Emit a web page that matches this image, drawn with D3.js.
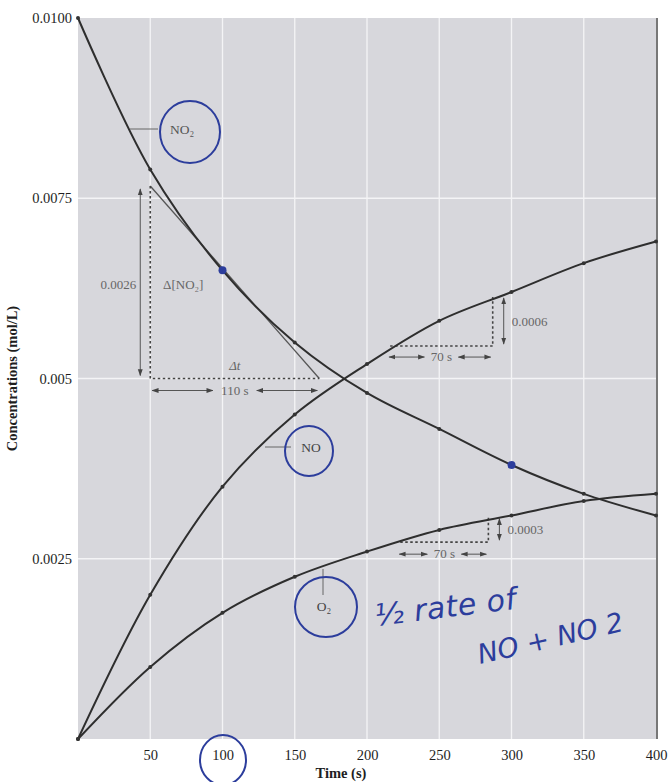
<!DOCTYPE html>
<html><head><meta charset="utf-8">
<script src="https://cdn.jsdelivr.net/npm/d3@7"></script>
<style>html,body{margin:0;padding:0;background:#fff;}svg{display:block;}</style>
</head><body>
<script>
// ---- data ----
const times = [0, 50, 100, 150, 200, 250, 300, 350, 400];
const no2 = [0.0100, 0.0079, 0.0065, 0.0055, 0.0048, 0.0043, 0.0038, 0.0034, 0.0031];
const no  = [0.0000, 0.0020, 0.0035, 0.0045, 0.0052, 0.0058, 0.0062, 0.0066, 0.0069];
const o2  = [0.0000, 0.0010, 0.00175, 0.00225, 0.0026, 0.0029, 0.0031, 0.0033, 0.0034];
const xTicks = [50, 100, 150, 200, 250, 300, 350, 400];
const yTicks = [0.0025, 0.005, 0.0075, 0.0100];
const yTickLabels = ["0.0025", "0.005", "0.0075", "0.0100"];
// annotation values (data units)
const tangent = [[50, 0.00767], [167, 0.0050]];
const no2Tri = {t0: 50, t1: 167, c0: 0.0050, c1: 0.00767, label: "0.0026", dlabel: "\u0394[NO\u2082]", tlabel: "110 s"};
const noTri  = {t0: 216, t1: 287, c0: 0.00545, c1: 0.00613, label: "0.0006", tlabel: "70 s"};
const o2Tri  = {t0: 223, t1: 284, c0: 0.00273, c1: 0.00307, label: "0.0003", tlabel: "70 s"};

const W = 670, H = 782;
const m = {left: 78, top: 18, right: 14, bottom: 43};
const svg = d3.select("body").append("svg").attr("width", W).attr("height", H);
const x = d3.scaleLinear().domain([0, 400]).range([m.left, W - m.right]);
const y = d3.scaleLinear().domain([0, 0.01]).range([H - m.bottom, m.top]);

// plot background
svg.append("rect").attr("x", x(0)).attr("y", y(0.01)).attr("width", x(400) - x(0)).attr("height", y(0) - y(0.01)).attr("fill", "#d7d7dc");
// grid
svg.append("g").selectAll("line").data(xTicks.slice(0, -1)).join("line")
  .attr("x1", d => x(d)).attr("x2", d => x(d)).attr("y1", y(0)).attr("y2", y(0.01))
  .attr("stroke", "#f4f4f6").attr("stroke-width", 1.3);
svg.append("g").selectAll("line").data(yTicks.slice(0, -1)).join("line")
  .attr("x1", x(0)).attr("x2", x(400)).attr("y1", d => y(d)).attr("y2", d => y(d))
  .attr("stroke", "#f4f4f6").attr("stroke-width", 1.3);
// right frame edge
svg.append("line").attr("x1", x(400) + 1).attr("x2", x(400) + 1).attr("y1", y(0.01)).attr("y2", y(0))
  .attr("stroke", "#777").attr("stroke-width", 2);

// axes (labels only)
const serif = "'Liberation Serif', 'DejaVu Serif', serif";
const xAxis = svg.append("g").attr("transform", `translate(0,${y(0)})`)
  .call(d3.axisBottom(x).tickValues(xTicks).tickSize(0).tickPadding(11));
xAxis.select(".domain").remove();
xAxis.selectAll("text").attr("font-family", serif).attr("font-size", 14.5).attr("fill", "#1e1e1e");
const yAxis = svg.append("g").attr("transform", `translate(${x(0)},0)`)
  .call(d3.axisLeft(y).tickValues(yTicks).tickFormat((d, i) => yTickLabels[i]).tickSize(0).tickPadding(6));
yAxis.select(".domain").remove();
yAxis.selectAll("text").attr("font-family", serif).attr("font-size", 14.5).attr("fill", "#1e1e1e");

svg.append("text").attr("x", 341).attr("y", 778).attr("text-anchor", "middle")
  .attr("font-family", serif).attr("font-weight", "bold").attr("font-size", 14.5).attr("fill", "#1e1e1e").text("Time (s)");
svg.append("text").attr("transform", `translate(17,${y(0.005)}) rotate(-90)`).attr("text-anchor", "middle")
  .attr("font-family", serif).attr("font-weight", "bold").attr("font-size", 14.5).attr("fill", "#1e1e1e").text("Concentrations (mol/L)");

// annotation styling helpers
const grayText = "#666", annoStroke = "#555";
svg.append("defs").html(`<marker id="ah" viewBox="0 0 10 10" refX="9" refY="5" markerWidth="7" markerHeight="7" orient="auto-start-reverse"><path d="M0,1.5 L10,5 L0,8.5 z" fill="#444"/></marker>`);
function dashed(pts) {
  svg.append("path").attr("d", d3.line().x(d => x(d[0])).y(d => y(d[1]))(pts))
    .attr("fill", "none").attr("stroke", "#444").attr("stroke-width", 1.6).attr("stroke-dasharray", "2.5,2.5");
}
function arrow(x1, y1, x2, y2) {
  svg.append("line").attr("x1", x1).attr("y1", y1).attr("x2", x2).attr("y2", y2)
    .attr("stroke", annoStroke).attr("stroke-width", 1)
    .attr("marker-start", "url(#ah)").attr("marker-end", "url(#ah)");
}
function label(px, py, txt, anchor, size) {
  return svg.append("text").attr("x", px).attr("y", py).attr("text-anchor", anchor || "middle")
    .attr("font-family", serif).attr("font-size", size || 13).attr("fill", grayText).text(txt);
}

// tangent line
svg.append("line").attr("x1", x(tangent[0][0])).attr("y1", y(tangent[0][1])).attr("x2", x(tangent[1][0])).attr("y2", y(tangent[1][1]))
  .attr("stroke", "#555").attr("stroke-width", 1.3);
// NO2 triangle
dashed([[no2Tri.t0, no2Tri.c1], [no2Tri.t0, no2Tri.c0], [no2Tri.t1, no2Tri.c0]]);
arrow(x(no2Tri.t0) - 10, y(no2Tri.c1) + 3, x(no2Tri.t0) - 10, y(no2Tri.c0) - 3);
label(x(no2Tri.t0) - 14, 289, no2Tri.label, "end");
label(x(no2Tri.t0) + 33, 289, no2Tri.dlabel);
label((x(no2Tri.t0) + x(no2Tri.t1)) / 2, y(no2Tri.c0) - 9, "\u0394t").attr("font-style", "italic");
{
  const yy = y(no2Tri.c0) + 12, xm = (x(no2Tri.t0) + x(no2Tri.t1)) / 2;
  arrow(xm - 22, yy, x(no2Tri.t0) + 2, yy);
  arrow(xm + 22, yy, x(no2Tri.t1) - 2, yy);
  label(xm, yy + 4, no2Tri.tlabel);
}
// NO and O2 triangles
function smallTri(tri, ty) {
  dashed([[tri.t0, tri.c0], [tri.t1, tri.c0], [tri.t1, tri.c1]]);
  arrow(x(tri.t1) + 11, y(tri.c1) + 1, x(tri.t1) + 11, y(tri.c0) - 2);
  label(x(tri.t1) + 19, (y(tri.c1) + y(tri.c0)) / 2 + 4, tri.label, "start");
  const yy = y(tri.c0) + ty, xm = (x(tri.t0) + x(tri.t1)) / 2;
  arrow(xm - 17, yy, x(tri.t0) - 1, yy);
  arrow(xm + 17, yy, x(tri.t1) - 2, yy);
  label(xm, yy + 4, tri.tlabel);
}
smallTri(noTri, 11);
smallTri(o2Tri, 12);

// curves
const line = d3.line().x((d, i) => x(times[i])).y(d => y(d)).curve(d3.curveCatmullRom.alpha(0.5));
[no2, no, o2].forEach(s => {
  svg.append("path").attr("d", line(s)).attr("fill", "none").attr("stroke", "#2e2e2e").attr("stroke-width", 2);
  svg.append("g").selectAll("circle").data(s).join("circle")
    .attr("cx", (d, i) => x(times[i])).attr("cy", d => y(d)).attr("r", 2).attr("fill", "#333");
});

// curve labels with leaders
svg.append("line").attr("x1", 130).attr("x2", 158).attr("y1", 129).attr("y2", 129).attr("stroke", "#666").attr("stroke-width", 1);
label(182, 134, "NO\u2082", "middle", 13.5).attr("fill", "#555");
svg.append("line").attr("x1", 265).attr("x2", 291).attr("y1", 447).attr("y2", 447).attr("stroke", "#666").attr("stroke-width", 1);
label(311, 452, "NO", "middle", 13.5).attr("fill", "#444");
svg.append("line").attr("x1", 323).attr("x2", 323).attr("y1", 569).attr("y2", 595).attr("stroke", "#666").attr("stroke-width", 1);
label(324, 611, "O\u2082", "middle", 13.5).attr("fill", "#444");

// handwritten blue annotations
const blue = "#2c3d9c";
const hand = svg.append("g").attr("fill", "none").attr("stroke", blue).attr("stroke-width", 2);
hand.append("ellipse").attr("cx", 190).attr("cy", 132).attr("rx", 30).attr("ry", 31);
hand.append("ellipse").attr("cx", 309).attr("cy", 451).attr("rx", 24).attr("ry", 25);
hand.append("ellipse").attr("cx", 326).attr("cy", 607).attr("rx", 31).attr("ry", 30);
hand.append("ellipse").attr("cx", 223).attr("cy", 760).attr("rx", 23).attr("ry", 25);
svg.append("circle").attr("cx", x(100)).attr("cy", y(0.0065)).attr("r", 4).attr("fill", blue);
svg.append("circle").attr("cx", x(300)).attr("cy", y(0.0038)).attr("r", 4).attr("fill", blue);
const handFont = "'DejaVu Sans', sans-serif";
svg.append("text").attr("transform", "translate(376,626) rotate(-7)").attr("font-family", handFont)
  .attr("font-size", 30).attr("fill", blue).attr("font-style", "italic").attr("letter-spacing", 0.5).text("\u00BD rate of");
svg.append("text").attr("transform", "translate(480,664) rotate(-13)").attr("font-family", handFont)
  .attr("font-size", 27).attr("fill", blue).attr("font-style", "italic").text("NO + NO 2");
</script>
</body></html>
